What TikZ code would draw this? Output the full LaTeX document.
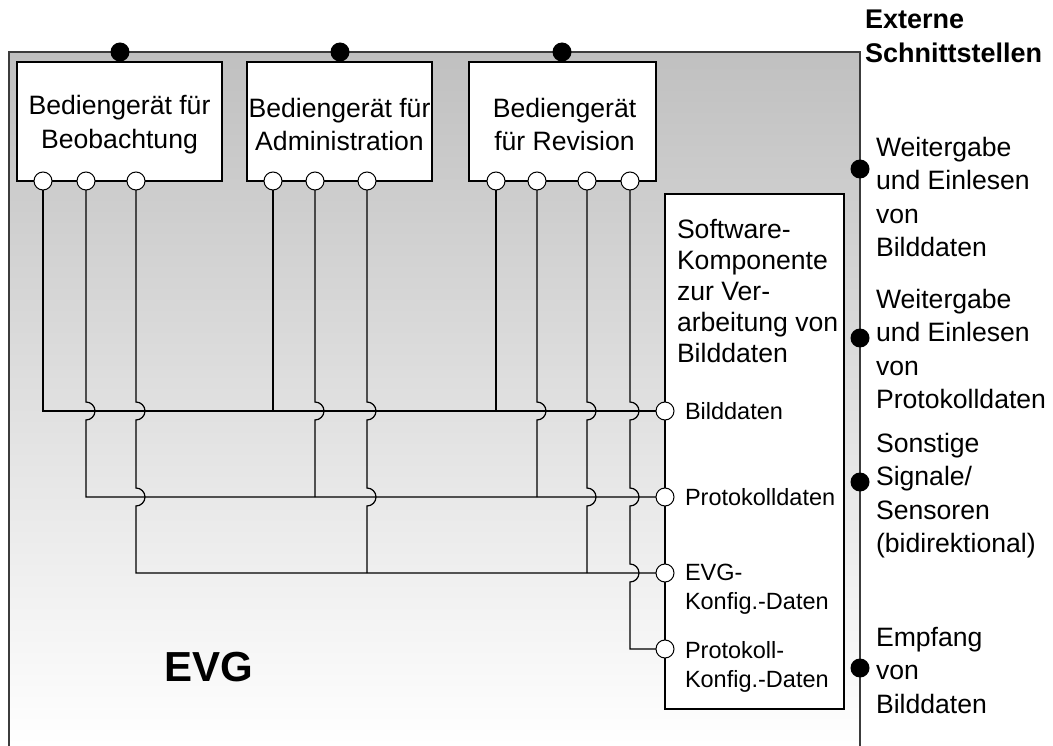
\documentclass[tikz,border=0pt]{standalone}
\usepackage{fontspec}
\setmainfont{Liberation Sans}
\usetikzlibrary{calc}
\definecolor{topgray}{RGB}{192,192,192}
\definecolor{framegray}{RGB}{60,60,60}
\newcommand{\hopat}[2]{-- ($(#1 |- #2)+(0,-9)$) arc[start angle=-90,end angle=90,x radius=9,y radius=9]}
\begin{document}
\begin{tikzpicture}[x=1pt,y=-1pt,
  every node/.style={inner sep=0pt, outer sep=0pt},
  box/.style={draw=black, line width=1.3pt, fill=white, anchor=north west},
  port/.style={circle, draw=black, fill=white, line width=1pt, minimum size=18pt},
  ext/.style={circle, fill=black, minimum size=19pt},
  wire/.style={line width=1.2pt, black},
  frame/.style={line width=1.4pt, draw=framegray},
  bigtxt/.style={font=\fontsize{26.6}{33.5}\selectfont, align=center},
  lbl/.style={font=\fontsize{26.6}{33.5}\selectfont, align=left, anchor=north west},
  swtxt/.style={font=\fontsize{26.6}{31}\selectfont, align=left, anchor=north west},
  plbl/.style={font=\fontsize{23.5}{29}\selectfont, align=left, anchor=north west},
  ]
\useasboundingbox (0,0) rectangle (1053,746);
% EVG area
\shade[top color=topgray, bottom color=white] (9,52) rectangle (860,746);
\draw[frame] (9,746) -- (9,52) -- (860,52) -- (860,746);

% operator boxes
\node[box, minimum width=205, minimum height=119] (b1) at (17,62) {};
\node[box, minimum width=185, minimum height=119] (b2) at (247,62) {};
\node[box, minimum width=187, minimum height=119] (b3) at (469,62) {};
\node[bigtxt] (b1t) at ($(b1.center)+(0,3)$) {Bediengerät für\\Beobachtung};
\node[bigtxt] (b2t) at ($(b2.center)+(0,3)$) {Bediengerät für\\Administration};
\node[bigtxt] (b3t) at ($(b3.center)+(2,3)$) {Bediengerät\\für Revision};

% software component
\node[box, minimum width=179, minimum height=515] (sw) at (665,194) {};
\node[swtxt] (swt) at (677,219) {Software-\\Komponente\\zur Ver-\\arbeitung von\\Bilddaten};

% ports on operator boxes
\node[port] (p11) at (43,181) {};
\node[port] (p12) at (86,181) {};
\node[port] (p13) at (136,181) {};
\node[port] (p21) at (273,181) {};
\node[port] (p22) at (315,181) {};
\node[port] (p23) at (367,181) {};
\node[port] (p31) at (496,181) {};
\node[port] (p32) at (537,181) {};
\node[port] (p33) at (587,181) {};
\node[port] (p34) at (630,181) {};

% ports on software component (coordinates first for wiring)
\coordinate (s1) at (665,411);
\coordinate (s2) at (665,497);
\coordinate (s3) at (665,573);
\coordinate (s4) at (665,649);

% wires
\draw[wire] (p11.south) |- (s1);
\draw[wire] (p21.south) -- (p21 |- s1);
\draw[wire] (p31.south) -- (p31 |- s1);

\draw[wire] (p12.south) \hopat{p12}{s1} |- (s2);
\draw[wire] (p22.south) \hopat{p22}{s1} -- (p22 |- s2);
\draw[wire] (p32.south) \hopat{p32}{s1} -- (p32 |- s2);

\draw[wire] (p13.south) \hopat{p13}{s1} \hopat{p13}{s2} |- (s3);
\draw[wire] (p23.south) \hopat{p23}{s1} \hopat{p23}{s2} -- (p23 |- s3);
\draw[wire] (p33.south) \hopat{p33}{s1} \hopat{p33}{s2} -- (p33 |- s3);

\draw[wire] (p34.south) \hopat{p34}{s1} \hopat{p34}{s2} \hopat{p34}{s3} |- (s4);

\node[port] (q1) at (s1) {};
\node[port] (q2) at (s2) {};
\node[port] (q3) at (s3) {};
\node[port] (q4) at (s4) {};

\node[plbl, anchor=west] (l1) at (685,411) {Bilddaten};
\node[plbl, anchor=west] (l2) at (685,497) {Protokolldaten};
\node[plbl] (l3) at (685,564.5) {EVG-\\Konfig.-Daten};
\node[plbl] (l4) at (685,641) {Protokoll-\\Konfig.-Daten};

% external interfaces
\node[ext] (e1) at (120,52) {};
\node[ext] (e2) at (340,52) {};
\node[ext] (e3) at (562,52) {};
\node[ext] (e4) at (860,169) {};
\node[ext] (e5) at (860,338) {};
\node[ext] (e6) at (860,482) {};
\node[ext] (e7) at (860,668) {};

\node[font=\fontsize{27}{34}\selectfont\bfseries, align=left, anchor=north west] (ext) at (865,10) {Externe\\Schnittstellen};
\node[lbl] (t1) at (876,137) {Weitergabe\\und Einlesen\\von\\Bilddaten};
\node[lbl] (t2) at (876,289) {Weitergabe\\und Einlesen\\von\\Protokolldaten};
\node[lbl] (t3) at (876,433) {Sonstige\\Signale/\\Sensoren\\(bidirektional)};
\node[lbl] (t4) at (876,627) {Empfang\\von\\Bilddaten};

\node[font=\fontsize{42}{46}\selectfont\bfseries] (evg) at (209,667) {EVG};
\end{tikzpicture}
\end{document}
